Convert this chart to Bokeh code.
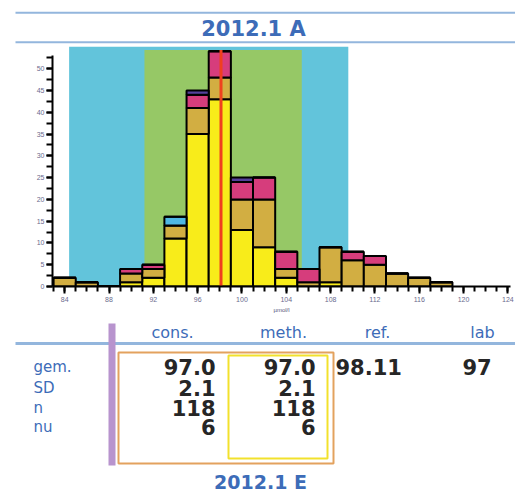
from bokeh.plotting import figure
from bokeh.models import ColumnDataSource, Range1d, SingleIntervalTicker
from bokeh.layouts import column, row
from bokeh.core.properties import value
from bokeh.embed import file_html
from bokeh.resources import INLINE

# ---------------- data ----------------
title_top = "2012.1 A"
title_bottom = "2012.1 E"

bin_centers = [84, 86, 88, 90, 92, 94, 96, 98, 100, 102, 104, 106, 108, 110, 112, 114, 116, 118]
seg_yellow  = [0, 0, 0, 1, 2, 11, 35, 43, 13, 9, 2, 0, 1, 0, 0, 0, 0, 0]
seg_tan     = [2, 1, 0, 2, 2, 3, 6, 5, 7, 11, 2, 1, 8, 6, 5, 3, 2, 1]
seg_magenta = [0, 0, 0, 1, 1, 0, 3, 6, 4, 5, 4, 3, 0, 2, 2, 0, 0, 0]
seg_cyan    = [0, 0, 0, 0, 0, 2, 0, 0, 0, 0, 0, 0, 0, 0, 0, 0, 0, 0]
seg_blue    = [0, 0, 0, 0, 0, 0, 1, 0, 1, 0, 0, 0, 0, 0, 0, 0, 0, 0]

outer_band = [84.4, 109.6]
inner_band = [91.2, 105.4]
ref_value = 98.11

col_headers = ["cons.", "meth.", "ref.", "lab"]
row_labels = ["gem.", "SD", "n", "nu"]
cons_values = ["97.0", "2.1", "118", "6"]
meth_values = ["97.0", "2.1", "118", "6"]
ref_values = ["98.11"]
lab_values = ["97"]

x_label = "µmol/l"

# ---------------- styles ----------------
BLUE_TXT = "#3D6CB8"
LINE_BLUE = "#93B6DD"
W = 515


def blank(height):
    f = figure(width=W, height=height, output_backend="svg", toolbar_location=None,
               x_range=Range1d(0, W), y_range=Range1d(height, 0),
               x_axis_location=None, y_axis_location=None,
               min_border=0, outline_line_color=None)
    f.grid.visible = False
    return f


# ---------------- header ----------------
hdr = blank(44)
hdr.segment(x0=[15, 15], y0=[12.3, 41.7], x1=[W, W], y1=[12.3, 41.7],
            line_color=LINE_BLUE, line_width=2)
hdr.text(x=[253], y=[28], text=[title_top], text_align="center", text_baseline="middle",
         text_font=value("DejaVu Sans"), text_font_style="bold",
         text_font_size="21px", text_color=BLUE_TXT)

# ---------------- histogram ----------------
p = figure(width=W, height=274, output_backend="svg", toolbar_location=None,
           x_range=Range1d(82.9, 124.24), y_range=Range1d(0, 55.1),
           min_border_left=52, min_border_right=5, min_border_top=2, min_border_bottom=32,
           outline_line_color=None)
p.grid.visible = False

p.quad(left=[outer_band[0]], right=[outer_band[1]], bottom=[0], top=[55.1],
       fill_color="#62C4DB", line_color=None)
p.quad(left=[inner_band[0]], right=[inner_band[1]], bottom=[0], top=[54.3],
       fill_color="#96C866", line_color=None)

src = ColumnDataSource(dict(x=bin_centers, yellow=seg_yellow, tan=seg_tan,
                            magenta=seg_magenta, cyan=seg_cyan, blue=seg_blue))
p.vbar_stack(["yellow", "tan", "magenta", "cyan", "blue"], x="x", width=2, source=src,
             color=["#F8EC1A", "#D2AE42", "#D63D7C", "#4FB7E3", "#55409A"],
             line_color="black", line_width=2)

p.segment(x0=[ref_value], y0=[0], x1=[ref_value], y1=[54.3], line_color="#F0401E", line_width=3)

xa = p.xaxis[0]
xa.ticker = SingleIntervalTicker(interval=4, num_minor_ticks=4)
xa.axis_line_width = 2
xa.major_tick_line_width = 2
xa.minor_tick_line_width = 2
xa.major_tick_in = 0
xa.major_tick_out = 7
xa.minor_tick_in = 0
xa.minor_tick_out = 5
xa.major_label_text_font_size = "7px"
xa.major_label_text_color = "#6B6B8E"
xa.major_label_standoff = 3
xa.axis_label = x_label
xa.axis_label_text_font_size = "6px"
xa.axis_label_text_font_style = "normal"
xa.axis_label_text_color = "#55557A"
xa.axis_label_standoff = 2

ya = p.yaxis[0]
ya.ticker = SingleIntervalTicker(interval=5, num_minor_ticks=2)
ya.bounds = (0, 53)
ya.axis_line_width = 2
ya.major_tick_line_width = 2
ya.minor_tick_line_width = 2
ya.major_tick_in = 0
ya.major_tick_out = 6
ya.minor_tick_in = 0
ya.minor_tick_out = 6
ya.major_label_text_font_size = "7px"
ya.major_label_text_color = "#6B6B8E"
ya.major_label_standoff = 2

# ---------------- table ----------------
t = blank(176)

row_y = [48.5, 69, 89, 108.5]
head_x = [172, 283, 377, 482]

t.segment(x0=[15], y0=[25], x1=[W], y1=[25], line_color=LINE_BLUE, line_width=3)
t.quad(left=[108], right=[115], top=[5], bottom=[147], fill_color="#B894CE", line_color=None)
t.quad(left=[118], right=[333], top=[34], bottom=[145], fill_color=None,
       line_color="#E3A25E", line_width=2)
t.quad(left=[228], right=[327], top=[37], bottom=[140], fill_color=None,
       line_color="#F2E12C", line_width=2)

t.text(x=head_x, y=[14] * 4, text=col_headers, text_align="center", text_baseline="middle",
       text_font=value("DejaVu Sans"), text_font_size="16px", text_color=BLUE_TXT)
t.text(x=[33] * 4, y=row_y, text=row_labels, text_align="left", text_baseline="middle",
       text_font=value("DejaVu Sans"), text_font_size="15px", text_color=BLUE_TXT)

num_style = dict(text_baseline="middle", text_font=value("DejaVu Sans"), text_font_style="bold",
                 text_font_size="21px", text_color="#262626")
t.text(x=[215] * 4, y=row_y, text=cons_values, text_align="right", **num_style)
t.text(x=[315] * 4, y=row_y, text=meth_values, text_align="right", **num_style)
t.text(x=[335], y=row_y[:1], text=ref_values, text_align="left", **num_style)
t.text(x=[462], y=row_y[:1], text=lab_values, text_align="left", **num_style)

t.text(x=[260], y=[163], text=[title_bottom], text_align="center", text_baseline="middle",
       text_font=value("DejaVu Sans"), text_font_style="bold",
       text_font_size="19px", text_color=BLUE_TXT)

layout = column(row(hdr), row(p), row(t), spacing=0)
open("out.html", "w").write(file_html(layout, INLINE))
